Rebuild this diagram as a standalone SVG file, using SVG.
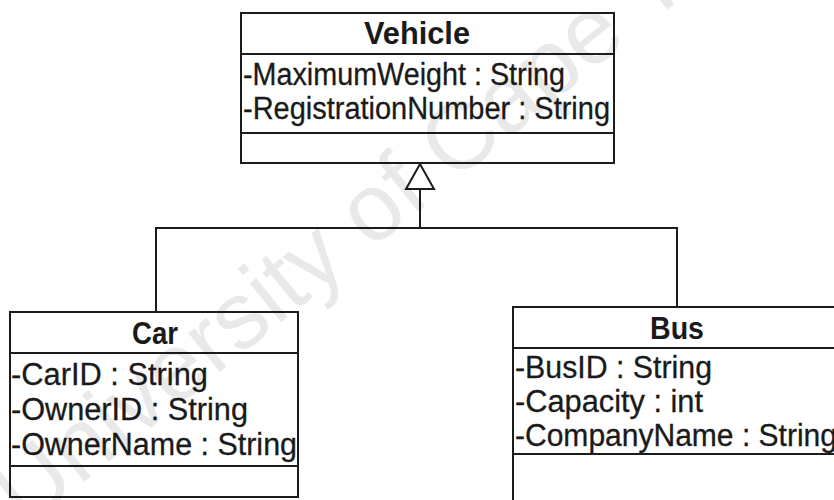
<svg xmlns="http://www.w3.org/2000/svg" width="834" height="500" viewBox="0 0 834 500">
  <style>
    .box { fill: #ffffff; stroke: #1c1c1c; stroke-width: 2; }
    .sep { stroke: #1c1c1c; stroke-width: 2; fill: none; }
    .line { stroke: #1c1c1c; stroke-width: 2; fill: none; }
    .head { fill: #ffffff; stroke: #1c1c1c; stroke-width: 2; stroke-linejoin: miter; }
    .title { font-family: "Liberation Sans", Arial, sans-serif; font-size: 31px; font-weight: bold; fill: #1a1a1a; }
    .attr { font-family: "Liberation Sans", Arial, sans-serif; font-size: 31px; fill: #1a1a1a; stroke: #1a1a1a; stroke-width: 0.3; }
    .wm { font-family: "Liberation Sans", Arial, sans-serif; font-size: 95px; fill: #000000; fill-opacity: 0.085; }
  </style>
  <rect width="834" height="500" fill="#ffffff"/>

  <g id="connectors">
    <polyline class="line" points="156,312 156,228 677,228 677,307"/>
    <line class="line" x1="420" y1="228" x2="420" y2="189"/>
    <polygon class="head" points="420,164 406,189 434,189"/>
  </g>

  <g id="vehicle">
    <rect class="box" x="241" y="13" width="373" height="150"/>
    <line class="sep" x1="241" y1="54" x2="614" y2="54"/>
    <line class="sep" x1="241" y1="133" x2="614" y2="133"/>
    <text class="title" x="364" y="44" textLength="106" lengthAdjust="spacingAndGlyphs">Vehicle</text>
    <text class="attr" x="243" y="85" textLength="322" lengthAdjust="spacingAndGlyphs">-MaximumWeight : String</text>
    <text class="attr" x="243" y="119" textLength="367" lengthAdjust="spacingAndGlyphs">-RegistrationNumber : String</text>
  </g>

  <g id="car">
    <rect class="box" x="10" y="312" width="288" height="185"/>
    <line class="sep" x1="10" y1="353" x2="298" y2="353"/>
    <line class="sep" x1="10" y1="466" x2="298" y2="466"/>
    <text class="title" x="132" y="344" textLength="46" lengthAdjust="spacingAndGlyphs">Car</text>
    <text class="attr" x="11" y="385" textLength="197" lengthAdjust="spacingAndGlyphs">-CarID : String</text>
    <text class="attr" x="11" y="420" textLength="237" lengthAdjust="spacingAndGlyphs">-OwnerID : String</text>
    <text class="attr" x="11" y="455" textLength="286" lengthAdjust="spacingAndGlyphs">-OwnerName : String</text>
  </g>

  <g id="bus">
    <rect class="box" x="513" y="307" width="340" height="210"/>
    <line class="sep" x1="513" y1="348" x2="853" y2="348"/>
    <line class="sep" x1="513" y1="454" x2="853" y2="454"/>
    <text class="title" x="650" y="339" textLength="54" lengthAdjust="spacingAndGlyphs">Bus</text>
    <text class="attr" x="515" y="378" textLength="197" lengthAdjust="spacingAndGlyphs">-BusID : String</text>
    <text class="attr" x="515" y="412" textLength="188" lengthAdjust="spacingAndGlyphs">-Capacity : int</text>
    <text class="attr" x="515" y="446" textLength="322" lengthAdjust="spacingAndGlyphs">-CompanyName : String</text>
  </g>

  <text class="wm" x="26" y="529" transform="rotate(-39 26 529)">University of Cape Town</text>
</svg>
